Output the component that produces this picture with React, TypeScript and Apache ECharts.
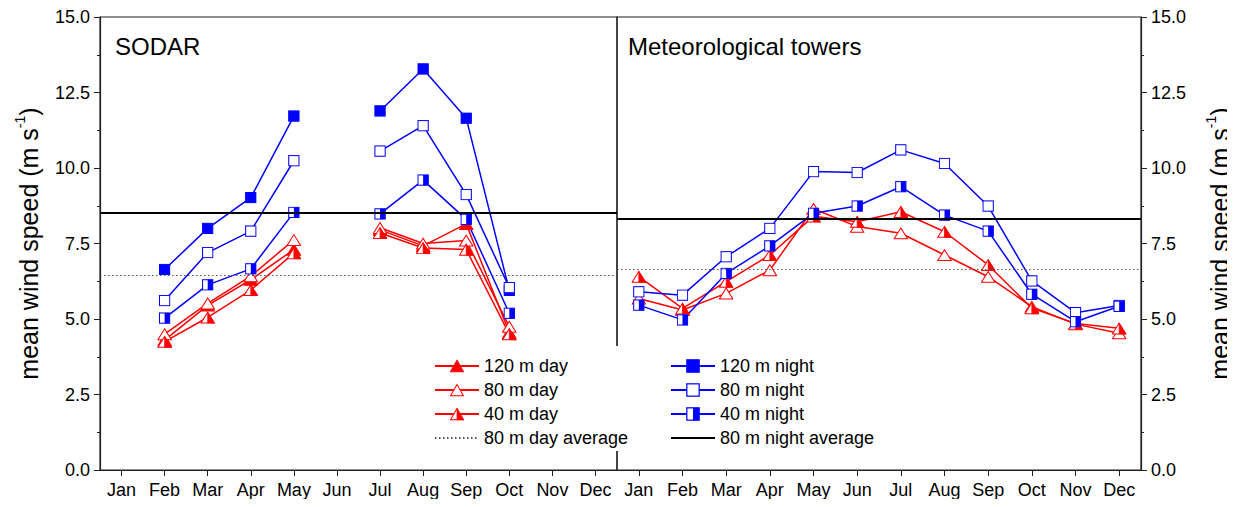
import React, { useEffect, useRef } from "react";
import * as echarts from "echarts";

const months = ["Jan", "Feb", "Mar", "Apr", "May", "Jun", "Jul", "Aug", "Sep", "Oct", "Nov", "Dec"];
const yTicks = [0, 2.5, 5, 7.5, 10, 12.5, 15];

// SODAR (left panel)
const sodar120Night = [null, 6.64, 8.0, 9.02, 11.72, null, 11.89, 13.28, 11.65, 5.95, null, null];
const sodar80Night = [null, 5.61, 7.2, 7.91, 10.24, null, 10.56, 11.4, 9.12, 6.04, null, null];
const sodar40Night = [null, 5.03, 6.13, 6.66, 8.53, null, 8.48, 9.6, 8.3, 5.19, null, null];
const sodar120Day = [null, 4.3, 5.45, 6.3, 7.3, null, 7.95, 7.42, 8.15, 4.55, null, null];
const sodar80Day = [null, 4.5, 5.52, 6.42, 7.62, null, 8.02, 7.5, 7.6, 4.75, null, null];
const sodar40Day = [null, 4.25, 5.05, 5.96, 7.18, null, 7.85, 7.35, 7.3, 4.5, null, null];
const sodarDayAvg = 6.46;
const sodarNightAvg = 8.51;

// Meteorological towers (right panel)
const tower80Night = [5.9, 5.79, 7.06, 8.0, 9.88, 9.85, 10.6, 10.15, 8.74, 6.26, 5.21, 5.45];
const tower40Night = [5.46, 4.97, 6.51, 7.42, 8.5, 8.74, 9.38, 8.44, 7.91, 5.82, 4.91, 5.42];
const tower80Day = [5.68, 5.3, 5.85, 6.62, 8.65, 8.06, 7.84, 7.12, 6.4, 5.41, 4.83, 4.53];
const tower40Day = [6.4, 5.35, 6.24, 7.12, 8.4, 8.22, 8.55, 7.89, 6.79, 5.36, 4.85, 4.69];
const towerDayAvg = 6.66;
const towerNightAvg = 8.31;

const RED = "#ff0000";
const BLUE = "#0000ff";
const FONT = "Liberation Sans, Arial, sans-serif";

const svgUrl = (s: string) =>
  "image://data:image/svg+xml;charset=utf-8," + encodeURIComponent(s);

const triFilled = svgUrl(
  `<svg xmlns='http://www.w3.org/2000/svg' width='20' height='18' viewBox='0 0 20 18'><polygon points='10,1 1,17 19,17' fill='${RED}' stroke='${RED}' stroke-width='1.4'/></svg>`
);
const triOpen = svgUrl(
  `<svg xmlns='http://www.w3.org/2000/svg' width='20' height='18' viewBox='0 0 20 18'><polygon points='10,1.5 1,17 19,17' fill='#ffffff' stroke='${RED}' stroke-width='1.4'/></svg>`
);
const triHalf = svgUrl(
  `<svg xmlns='http://www.w3.org/2000/svg' width='20' height='18' viewBox='0 0 20 18'><polygon points='10,1.5 1,17 19,17' fill='#ffffff' stroke='${RED}' stroke-width='1.4'/><polygon points='10,1.5 10,17 19,17' fill='${RED}' stroke='${RED}' stroke-width='1'/></svg>`
);
const sqFilled = svgUrl(
  `<svg xmlns='http://www.w3.org/2000/svg' width='14' height='14' viewBox='0 0 14 14'><rect x='1' y='1' width='12' height='12' fill='${BLUE}' stroke='${BLUE}' stroke-width='1.2'/></svg>`
);
const sqOpen = svgUrl(
  `<svg xmlns='http://www.w3.org/2000/svg' width='14' height='14' viewBox='0 0 14 14'><rect x='1' y='1' width='12' height='12' fill='#ffffff' stroke='${BLUE}' stroke-width='1.2'/></svg>`
);
const sqHalf = svgUrl(
  `<svg xmlns='http://www.w3.org/2000/svg' width='14' height='14' viewBox='0 0 14 14'><rect x='1' y='1' width='12' height='12' fill='#ffffff' stroke='${BLUE}' stroke-width='1.2'/><rect x='7' y='1' width='6' height='12' fill='${BLUE}'/></svg>`
);

const lineSeries = (
  name: string,
  data: (number | null)[],
  idx: number,
  color: string,
  symbol: string,
  symbolSize: number[]
) => ({
  name,
  type: "line",
  xAxisIndex: idx,
  yAxisIndex: idx,
  data,
  color,
  symbol,
  symbolSize,
  showSymbol: true,
  connectNulls: false,
  lineStyle: { color, width: 1.5 },
  itemStyle: { color },
  emphasis: { disabled: true },
});

const dottedStyle = { color: "#555555", width: 1, type: [1.5, 2.5] };
const solidStyle = { color: "#000000", width: 2, type: "solid" };

const avgSeries = (name: string, value: number, idx: number, dotted: boolean) => ({
  name,
  type: "line",
  xAxisIndex: idx,
  yAxisIndex: idx,
  data: [],
  symbol: "none",
  color: dotted ? "#555555" : "#000000",
  lineStyle: dotted ? dottedStyle : solidStyle,
  markLine: {
    silent: true,
    symbol: ["none", "none"],
    label: { show: false },
    lineStyle: dotted ? dottedStyle : solidStyle,
    data: [{ yAxis: value }],
  },
});

const TRI = [15, 14];
const SQ = [12, 12];

export default function App() {
  const ref = useRef<HTMLDivElement>(null);
  useEffect(() => {
    if (!ref.current) return;
    const chart = echarts.init(ref.current, null, { renderer: "svg" });
    const yName = "{a|mean wind speed (m s}{b|-1}{a|)}";
    const yAxisCommon = (idx: number, pos: "left" | "right") => ({
      type: "value",
      gridIndex: idx,
      position: pos,
      min: yTicks[0],
      max: yTicks[yTicks.length - 1],
      interval: 2.5,
      name: yName,
      nameLocation: "middle",
      nameRotate: 90,
      nameGap: pos === "left" ? 55 : 63,
      nameTextStyle: {
        color: "#000",
        fontFamily: FONT,
        rich: {
          a: { fontSize: 25, lineHeight: 32, color: "#000", fontFamily: FONT },
          b: { fontSize: 14, lineHeight: 32, color: "#000", fontFamily: FONT, verticalAlign: "top" },
        },
      },
      axisLine: { show: true, lineStyle: { color: "#222", width: 1.2 } },
      axisTick: { show: true, inside: false, length: 6, lineStyle: { color: "#222" } },
      minorTick: { show: true, splitNumber: 2, length: 3, lineStyle: { color: "#222" } },
      splitLine: { show: false },
      axisLabel: {
        color: "#000",
        fontSize: 18,
        fontFamily: FONT,
        margin: 10,
        formatter: (v: number) => v.toFixed(1),
      },
    });
    const xAxisCommon = (idx: number) => ({
      type: "category",
      gridIndex: idx,
      data: months,
      boundaryGap: true,
      axisLine: { show: true, lineStyle: { color: "#222", width: 1.2 } },
      axisTick: { show: true, alignWithLabel: true, inside: false, length: 6, lineStyle: { color: "#222" } },
      axisLabel: { color: "#000", fontSize: 18, fontFamily: FONT, margin: 11, interval: 0 },
      splitLine: { show: false },
    });
    const legendCommon = {
      top: 357,
      orient: "vertical",
      padding: 0,
      itemWidth: 44,
      itemHeight: 18,
      itemGap: 6,
      selectedMode: false,
      textStyle: { fontSize: 18, color: "#000", fontFamily: FONT },
    };
    chart.setOption({
      animation: false,
      backgroundColor: "#ffffff",
      textStyle: { fontFamily: FONT },
      title: [
        { text: "SODAR", left: 110, top: 29, textStyle: { fontSize: 24, fontWeight: "normal", color: "#000", fontFamily: FONT } },
        { text: "Meteorological towers", left: 623, top: 29, textStyle: { fontSize: 24, fontWeight: "normal", color: "#000", fontFamily: FONT } },
      ],
      grid: [
        { left: 100, top: 17, width: 517, height: 453, show: true, borderColor: "#222", borderWidth: 1.2, backgroundColor: "transparent" },
        { left: 617, top: 17, width: 524, height: 453, show: true, borderColor: "#222", borderWidth: 1.2, backgroundColor: "transparent" },
      ],
      xAxis: [xAxisCommon(0), xAxisCommon(1)],
      yAxis: [yAxisCommon(0, "left"), yAxisCommon(1, "right")],
      legend: [
        {
          ...legendCommon,
          left: 434,
          data: [
            "120 m day",
            "80 m day",
            "40 m day",
            { name: "80 m day average", itemStyle: { opacity: 0 } },
          ],
        },
        {
          ...legendCommon,
          left: 670,
          data: [
            "120 m night",
            "80 m night",
            "40 m night",
            { name: "80 m night average", itemStyle: { opacity: 0 } },
          ],
        },
      ],
      graphic: [
        { type: "rect", z: 3, shape: { x: 610, y: 346, width: 14, height: 105 }, style: { fill: "#ffffff" } },
      ],
      series: [
        avgSeries("80 m day average", sodarDayAvg, 0, true),
        avgSeries("80 m night average", sodarNightAvg, 0, false),
        avgSeries("80 m day average", towerDayAvg, 1, true),
        avgSeries("80 m night average", towerNightAvg, 1, false),
        lineSeries("120 m day", sodar120Day, 0, RED, triFilled, TRI),
        lineSeries("80 m day", sodar80Day, 0, RED, triOpen, TRI),
        lineSeries("40 m day", sodar40Day, 0, RED, triHalf, TRI),
        lineSeries("120 m night", sodar120Night, 0, BLUE, sqFilled, SQ),
        lineSeries("80 m night", sodar80Night, 0, BLUE, sqOpen, SQ),
        lineSeries("40 m night", sodar40Night, 0, BLUE, sqHalf, SQ),
        lineSeries("80 m day", tower80Day, 1, RED, triOpen, TRI),
        lineSeries("40 m day", tower40Day, 1, RED, triHalf, TRI),
        lineSeries("80 m night", tower80Night, 1, BLUE, sqOpen, SQ),
        lineSeries("40 m night", tower40Night, 1, BLUE, sqHalf, SQ),
      ],
    });
    return () => chart.dispose();
  }, []);
  return <div ref={ref} style={{ width: 1235, height: 507, margin: -8 }} />;
}
